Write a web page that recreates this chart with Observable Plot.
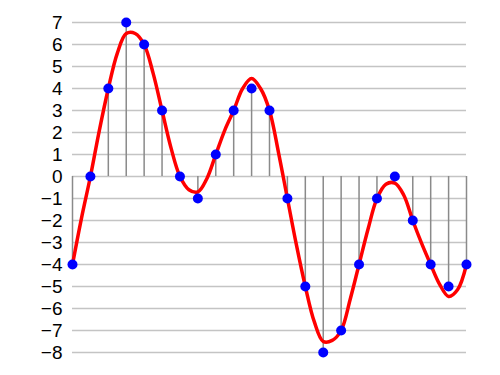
<!DOCTYPE html>
<html>
<head>
<meta charset="utf-8">
<script src="https://cdn.jsdelivr.net/npm/d3@7"></script>
<script src="https://cdn.jsdelivr.net/npm/@observablehq/plot@0.6"></script>
<style>
  html, body { margin: 0; padding: 0; background: #fff; }
  #chart svg { display: block; }
</style>
</head>
<body>
<div id="chart"></div>
<script>
// Quantized samples (blue dots)
const sampleX = [0,1,2,3,4,5,6,7,8,9,10,11,12,13,14,15,16,17,18,19,20,21,22];
const sampleY = [-4,0,4,7,6,3,0,-1,1,3,4,3,-1,-5,-8,-7,-4,-1,0,-2,-4,-5,-4];

// Original analog signal (red curve)
const signalX = [0,0.5,1,1.5,2,2.5,3,3.5,4,4.5,5,5.5,6,6.5,7,7.5,8,8.5,9,9.5,10,10.5,11,11.5,12,12.5,13,13.5,14,14.5,15,15.5,16,16.5,17,17.5,18,18.5,19,19.5,20,20.5,21,21.5,22];
const signalY = [-4,-1.9,0,2.1,4,5.6,6.5,6.5,6.0,4.7,3.0,1.3,0,-0.6,-0.7,-0.1,1.0,2.1,3.0,4.0,4.45,4.0,3.0,1.1,-1.0,-3.1,-5.0,-6.6,-7.5,-7.45,-7.0,-5.6,-4.0,-2.4,-1.0,-0.35,-0.3,-0.85,-2.0,-3.05,-4.0,-4.9,-5.45,-5.15,-4.0];

// Y tick values
const yTicks = [-8,-7,-6,-5,-4,-3,-2,-1,0,1,2,3,4,5,6,7];

const samples = sampleX.map((x, i) => ({x, y: sampleY[i]}));
const signal = signalX.map((x, i) => ({x, y: signalY[i]}));

const chart = Plot.plot({
  width: 500,
  height: 375,
  marginLeft: 72,
  marginRight: 34,
  marginTop: 22,
  marginBottom: 23,
  style: {fontFamily: "'Liberation Sans', Arial, sans-serif", background: "#fff"},
  x: {domain: [0, 22], axis: null},
  y: {domain: [-8, 7]},
  marks: [
    Plot.ruleY(yTicks, {x1: 0, x2: 22, y: d => d, stroke: "#c4c4c4", strokeWidth: 1.5}),
    Plot.ruleX(samples, {x: "x", y1: 0, y2: "y", stroke: "#8a8a8a", strokeWidth: 1.5}),
    Plot.line(signal, {x: "x", y: "y", stroke: "#ff0000", strokeWidth: 3.5, curve: "catmull-rom"}),
    Plot.dot(samples, {x: "x", y: "y", r: 5, fill: "#0000ff", stroke: "none"}),
    Plot.axisY(yTicks, {tickSize: 0, tickPadding: 10, fontSize: 19, fill: "#000", label: null})
  ]
});
document.getElementById("chart").appendChild(chart);
</script>
</body>
</html>
